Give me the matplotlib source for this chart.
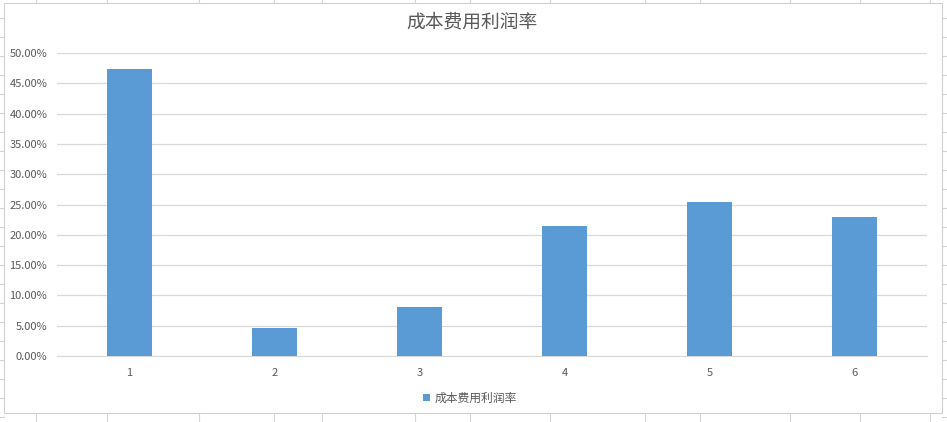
import numpy as np
import matplotlib.pyplot as plt
from matplotlib.ticker import FuncFormatter
from matplotlib.patches import Rectangle

plt.rcParams['font.family'] = ['Noto Sans CJK SC', 'DejaVu Sans']

# data
categories = ['1', '2', '3', '4', '5', '6']
rates = [0.4735, 0.0462, 0.0810, 0.2145, 0.2540, 0.2295]
series_name = '成本费用利润率'

fig = plt.figure(figsize=(9.47, 4.22), dpi=100)
fig.patch.set_facecolor('white')

# spreadsheet cells behind the chart
W, H = 947, 422
cell_x = [36, 107, 199, 274, 322, 415, 470, 550, 645, 700, 790, 860, 930]
for cx in cell_x:
    fig.add_artist(plt.Line2D([cx / W, cx / W], [1 - 3 / H, 1], color='#d4d4d4', lw=0.8, zorder=-2))
    fig.add_artist(plt.Line2D([cx / W, cx / W], [0, 9 / H], color='#d4d4d4', lw=0.8, zorder=-2))
for cy in range(18, 420, 19):
    fig.add_artist(plt.Line2D([0, 4 / W], [1 - cy / H, 1 - cy / H], color='#d4d4d4', lw=0.8, zorder=-2))
    fig.add_artist(plt.Line2D([942 / W, 1], [1 - cy / H, 1 - cy / H], color='#d4d4d4', lw=0.8, zorder=-2))
fig.add_artist(Rectangle((4 / W, 9 / H), 938 / W, 1 - 12 / H, transform=fig.transFigure,
                         facecolor='white', edgecolor='#d0d0d0', lw=0.8, zorder=-1))

ax = fig.add_axes([57 / W, 1 - 356 / H, 870 / W, 303 / H])
ax.set_facecolor('none')
x = np.arange(len(categories))
ax.bar(x, rates, width=0.315, color='#5b9bd5', label=series_name, zorder=3)

ax.set_xlim(-0.5, len(categories) - 0.5)
ax.set_ylim(0, 0.5)
ax.set_yticks(np.arange(0, 0.501, 0.05))
ax.yaxis.set_major_formatter(FuncFormatter(lambda v, p: f'{v * 100:.2f}%'))
ax.set_xticks(x)
ax.set_xticklabels(categories)
ax.grid(axis='y', color='#d9d9d9', lw=0.9, zorder=0)
for s in ['top', 'right', 'left']:
    ax.spines[s].set_visible(False)
ax.spines['bottom'].set_color('#d9d9d9')
ax.tick_params(axis='both', length=0, labelsize=8, colors='#595959', pad=7)
ax.tick_params(axis='x', pad=9)

fig.text(472 / W, 1 - 22 / H, series_name, ha='center', va='center',
         fontsize=13.5, color='#595959')
fig.legend(loc='center', bbox_to_anchor=(470 / W, 1 - 398 / H), frameon=False,
           fontsize=8.5, handlelength=0.6, handleheight=0.6, handletextpad=0.4,
           labelcolor='#595959')

fig.savefig('out.png', dpi=100)
